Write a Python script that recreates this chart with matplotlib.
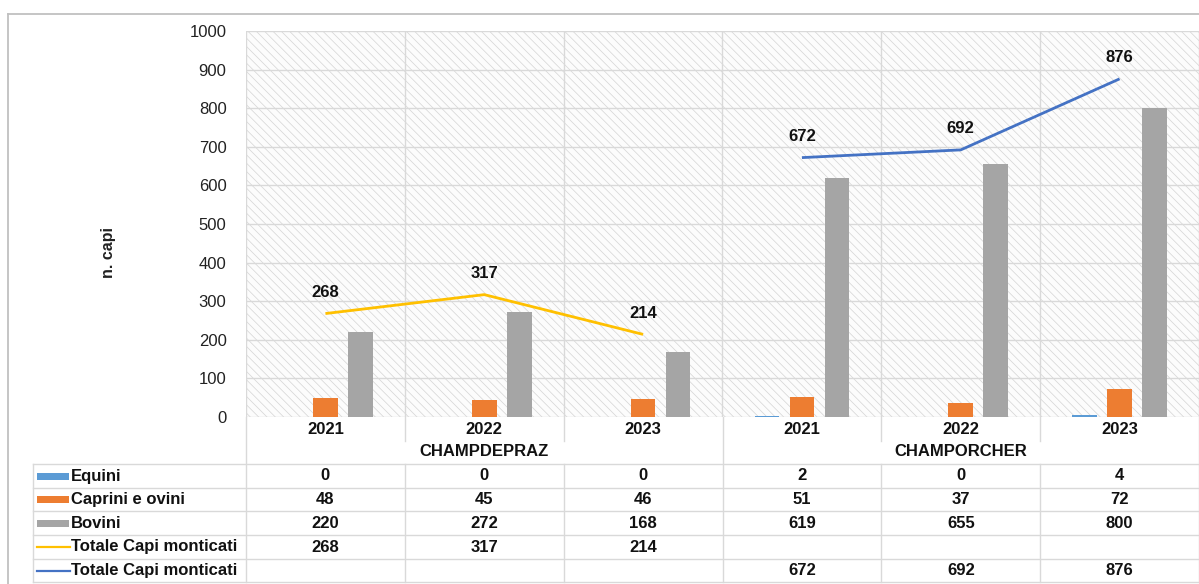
import matplotlib
matplotlib.use("Agg")
import matplotlib.pyplot as plt
from matplotlib.patches import Rectangle
from matplotlib.lines import Line2D
import numpy as np

plt.rcParams['font.family'] = ['Liberation Sans', 'DejaVu Sans']
plt.rcParams['hatch.linewidth'] = 0.5

# ---------------- data ----------------
years = ["2021", "2022", "2023", "2021", "2022", "2023"]
groups = ["CHAMPDEPRAZ", "CHAMPORCHER"]
equini = [0, 0, 0, 2, 0, 4]
caprini = [48, 45, 46, 51, 37, 72]
bovini = [220, 272, 168, 619, 655, 800]
totale_champdepraz = [268, 317, 214]
totale_champorcher = [672, 692, 876]
series_names = ["Equini", "Caprini e ovini", "Bovini",
                "Totale Capi monticati", "Totale Capi monticati"]
yticks = [0, 100, 200, 300, 400, 500, 600, 700, 800, 900, 1000]

C_EQ = "#5B9BD5"
C_CA = "#ED7D31"
C_BO = "#A5A5A5"
C_Y = "#FFC000"
C_B = "#4472C4"
GRID = "#d9d9d9"
TXT = "#111111"
FS = 12

W, H = 1199, 584
fig = plt.figure(figsize=(W / 100, H / 100), dpi=100)

# pixel geometry
PL, PR, PT, PB = 246, 1199, 31, 417

# overlay axes in pixel coords (table, border)
ov = fig.add_axes([0, 0, 1, 1], zorder=0)
ov.set_xlim(0, W)
ov.set_ylim(H, 0)
ov.axis("off")

ax = fig.add_axes([PL / W, 1 - PB / H, (PR - PL) / W, (PB - PT) / H], zorder=1)
ax.set_facecolor("none")
n = len(years)
x = np.arange(n)
ax.set_xlim(-0.5, n - 0.5)
ax.set_ylim(0, 1000)

# hatched background
bg = Rectangle((0, 0), 1, 1, transform=ax.transAxes, facecolor="#fcfcfc",
               edgecolor="#d4d4d4", hatch="\\\\\\\\", lw=0, zorder=0)
ax.add_patch(bg)

for v in yticks:
    ax.axhline(v, color=GRID, lw=1.0, zorder=0.5)
for b in np.arange(-0.5, n, 1.0):
    ax.axvline(b, color=GRID, lw=1.0, zorder=0.5)

off = 0.22
bw = 0.155
ax.bar(x - off, equini, bw, color=C_EQ, zorder=2)
ax.bar(x, caprini, bw, color=C_CA, zorder=2)
ax.bar(x + off, bovini, bw, color=C_BO, zorder=2)

xa = x[:3]
xb = x[3:]
ax.plot(xa, totale_champdepraz, color=C_Y, lw=2.0, zorder=3, solid_capstyle="butt")
ax.plot(xb, totale_champorcher, color=C_B, lw=2.0, zorder=3, solid_capstyle="butt")
for xi, v in zip(xa, totale_champdepraz):
    ax.annotate(str(v), (xi, v), xytext=(0, 21), textcoords="offset pixels",
                ha="center", va="center", fontsize=FS, fontweight="bold", color=TXT)
for xi, v in zip(xb, totale_champorcher):
    ax.annotate(str(v), (xi, v), xytext=(0, 21), textcoords="offset pixels",
                ha="center", va="center", fontsize=FS, fontweight="bold", color=TXT)

ax.set_yticks(yticks)
ax.set_yticklabels([str(v) for v in yticks], fontsize=FS, color="#222222")
ax.tick_params(axis="y", length=0, pad=14)
ax.set_xticks([])
for s in ax.spines.values():
    s.set_visible(False)

# y label
ov.text(108, 252, "n. capi", rotation=90, ha="center", va="center",
        fontsize=11.5, fontweight="bold", color="#222222")

# outer border
ov.add_line(Line2D([8, W], [13.5, 13.5], color="#c0c0c0", lw=1.3))
ov.add_line(Line2D([8, 8], [13.5, H], color="#c0c0c0", lw=1.3))

# ---------------- table ----------------
cw = (PR - PL) / n
col_c = [PL + (i + 0.5) * cw for i in range(n)]
bounds = [PL + i * cw for i in range(n + 1)]
TL = 33
rows_y = [464, 488, 511, 535, 559, 582]
LC = "#d9d9d9"

# header: years and groups
for cx, yr in zip(col_c, years):
    ov.text(cx, 429, yr, ha="center", va="center", fontsize=FS,
            fontweight="bold", color=TXT)
ov.text((bounds[0] + bounds[3]) / 2, 451.5, groups[0], ha="center", va="center",
        fontsize=FS, fontweight="bold", color=TXT)
ov.text((bounds[3] + bounds[6]) / 2, 451.5, groups[1], ha="center", va="center",
        fontsize=FS, fontweight="bold", color=TXT)

# vertical lines in header / table
for i, bx in enumerate(bounds):
    if i in (0, 3, 6):
        ov.add_line(Line2D([bx, bx], [PB, rows_y[-1]], color=LC, lw=1.0))
    else:
        ov.add_line(Line2D([bx, bx], [PB, 441], color=LC, lw=1.0))
        ov.add_line(Line2D([bx, bx], [rows_y[0], rows_y[-1]], color=LC, lw=1.0))
ov.add_line(Line2D([TL, TL], [rows_y[0], rows_y[-1]], color=LC, lw=1.0))
for ry in rows_y:
    ov.add_line(Line2D([TL, W], [ry, ry], color=LC, lw=1.0))

table_vals = [
    [str(v) for v in equini],
    [str(v) for v in caprini],
    [str(v) for v in bovini],
    [str(v) for v in totale_champdepraz] + [""] * 3,
    [""] * 3 + [str(v) for v in totale_champorcher],
]
swatch = [("bar", C_EQ), ("bar", C_CA), ("bar", C_BO), ("line", C_Y), ("line", C_B)]
for r in range(5):
    cy = (rows_y[r] + rows_y[r + 1]) / 2
    kind, col = swatch[r]
    if kind == "bar":
        ov.add_patch(Rectangle((37, cy - 3.5), 32, 7, facecolor=col, lw=0))
    else:
        ov.add_line(Line2D([37, 70], [cy, cy], color=col, lw=1.6))
    ov.text(71, cy, series_names[r], ha="left", va="center", fontsize=FS,
            fontweight="bold", color=TXT)
    for cx, t in zip(col_c, table_vals[r]):
        ov.text(cx, cy, t, ha="center", va="center", fontsize=FS,
                fontweight="bold", color=TXT)

fig.savefig("out.png", dpi=100)
